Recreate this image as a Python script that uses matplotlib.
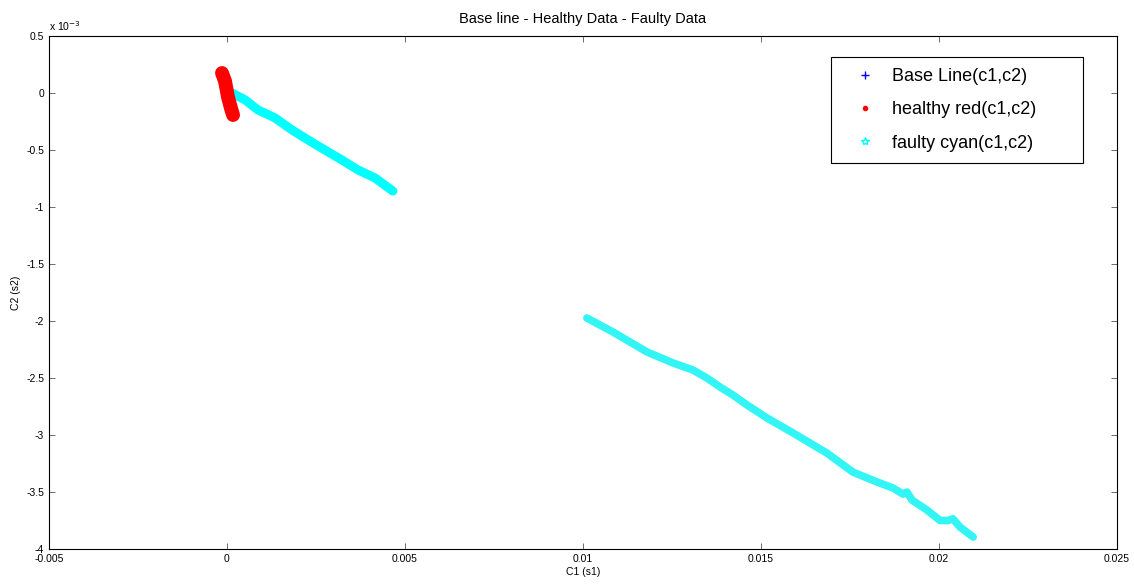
import matplotlib
matplotlib.use('Agg')
import matplotlib.pyplot as plt
from matplotlib.lines import Line2D
from matplotlib.ticker import FuncFormatter
import numpy as np

plt.rcParams['font.family'] = ['Liberation Sans', 'DejaVu Sans']

# base line points (hidden under the healthy cluster)
base_c1 = [-0.00010, -0.00005, 0.00000, 0.00005, 0.00010]
base_c2 = [0.10e-3, 0.05e-3, 0.00e-3, -0.05e-3, -0.10e-3]

# healthy data, a small slanted cluster near the origin
healthy_c1 = [-0.00014, -0.000056, 0.000028, 0.00011, 0.00017]
healthy_c2 = [0.175e-3, 0.105e-3, -0.035e-3, -0.132e-3, -0.193e-3]

# faulty data, first stretch
faulty1_c1 = [0.00014, 0.00051, 0.00087, 0.00135, 0.00183, 0.00228,
              0.00275, 0.00323, 0.00368, 0.00416, 0.00466]
faulty1_c2 = [0.0e-3, -0.061e-3, -0.149e-3, -0.219e-3, -0.325e-3, -0.412e-3,
              -0.500e-3, -0.588e-3, -0.675e-3, -0.746e-3, -0.860e-3]

# faulty data, second stretch
faulty2_c1 = [0.01011, 0.01084, 0.01180, 0.01253, 0.01309, 0.01348, 0.01385,
              0.01421, 0.01461, 0.01517, 0.01590, 0.01685, 0.01758, 0.01826,
              0.01871, 0.01899, 0.01910, 0.01924, 0.01966, 0.02003, 0.02025,
              0.02039, 0.02059, 0.02096]
faulty2_c2 = [-1.974e-3, -2.096e-3, -2.272e-3, -2.368e-3, -2.430e-3, -2.500e-3,
              -2.579e-3, -2.649e-3, -2.737e-3, -2.851e-3, -2.982e-3, -3.158e-3,
              -3.325e-3, -3.412e-3, -3.465e-3, -3.518e-3, -3.500e-3, -3.570e-3,
              -3.658e-3, -3.750e-3, -3.750e-3, -3.735e-3, -3.807e-3, -3.895e-3]

x_ticks = [-0.005, 0, 0.005, 0.01, 0.015, 0.02, 0.025]
y_ticks = np.arange(-4, 0.51, 0.5) * 1e-3

fig = plt.figure(figsize=(11.34, 5.85), dpi=100)
ax = fig.add_axes([0.0432, 0.0615, 0.9418, 0.877])

ax.plot(base_c1, base_c2, linestyle='none', marker='+', color='b', markersize=5)
ax.plot(faulty1_c1, faulty1_c2, color='cyan', linewidth=6.5,
        solid_capstyle='round', solid_joinstyle='round')
ax.plot(faulty2_c1, faulty2_c2, color='#33f5f5', linewidth=5.5,
        solid_capstyle='round', solid_joinstyle='round')
ax.plot(healthy_c1, healthy_c2, color='red', linewidth=10,
        solid_capstyle='round', solid_joinstyle='round')

ax.set_xlim(-0.005, 0.025)
ax.set_ylim(-4e-3, 0.5e-3)
ax.set_xticks(x_ticks)
ax.set_yticks(y_ticks)
ax.xaxis.set_major_formatter(FuncFormatter(lambda v, p: '%g' % round(v, 6)))
ax.yaxis.set_major_formatter(FuncFormatter(lambda v, p: '%g' % round(v * 1e3, 4)))
ax.tick_params(direction='in', top=True, right=True, labelsize=7.5, length=4,
               width=0.6, color='#555555')
for s in ax.spines.values():
    s.set_linewidth(0.8)

ax.text(0.0, 1.005, 'x 10$^{-3}$', transform=ax.transAxes, fontsize=7.5,
        ha='left', va='bottom')
ax.set_title('Base line - Healthy Data - Faulty Data', fontsize=10.5, pad=9)
ax.set_xlabel('C1 (s1)', fontsize=7.5, labelpad=2)
ax.set_ylabel('C2 (s2)', fontsize=7.5, labelpad=4)

handles = [
    Line2D([], [], linestyle='none', marker='+', color='b', markersize=6),
    Line2D([], [], linestyle='none', marker='.', color='red', markersize=6),
    Line2D([], [], linestyle='none', marker='*', color='cyan', markersize=6,
           markerfacecolor='none'),
]
# trailing spaces widen the box on the right like the original legend
labels = ['Base Line(c1,c2)       ', 'healthy red(c1,c2)       ',
          'faulty cyan(c1,c2)       ']
leg = ax.legend(handles, labels, loc='upper right', bbox_to_anchor=(0.968, 0.959),
                borderaxespad=0, fontsize=13, fancybox=False, framealpha=1,
                edgecolor='black', handletextpad=0.2, labelspacing=0.9,
                borderpad=0.62, handlelength=2.6)
leg.get_frame().set_linewidth(0.8)

fig.savefig('out.png', dpi=100)
